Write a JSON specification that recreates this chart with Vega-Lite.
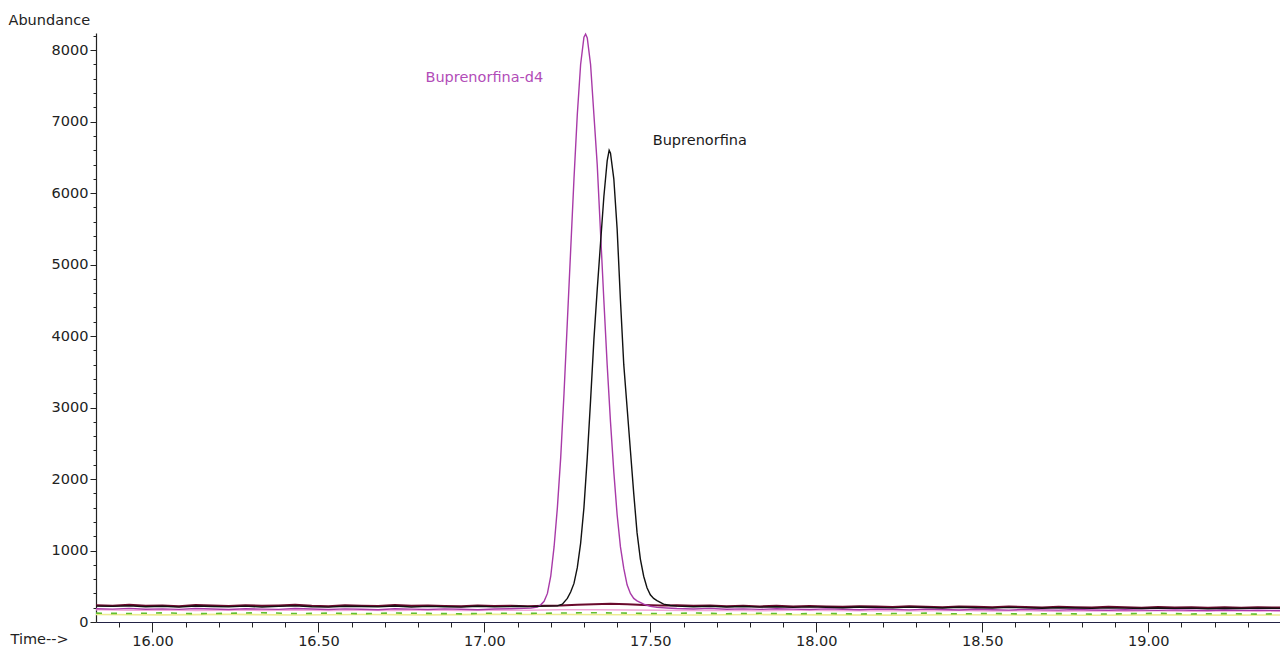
{
  "$schema": "https://vega.github.io/schema/vega-lite/v6.json",
  "width": 1184,
  "height": 589,
  "autosize": {"type": "none"},
  "padding": {"left": 96, "top": 33, "right": 0, "bottom": 27},
  "background": "#ffffff",
  "config": {"font": "DejaVu Sans", "view": {"stroke": null}},
  "datasets": {
    "tr": [
      {"t":15.83,"a":105,"s":"yel"},{"t":16.03,"a":100,"s":"yel"},{"t":16.23,"a":106,"s":"yel"},{"t":16.43,"a":98,"s":"yel"},{"t":16.63,"a":104,"s":"yel"},{"t":16.83,"a":100,"s":"yel"},{"t":17.03,"a":106,"s":"yel"},{"t":17.23,"a":104,"s":"yel"},{"t":17.43,"a":102,"s":"yel"},{"t":17.63,"a":98,"s":"yel"},{"t":17.83,"a":104,"s":"yel"},{"t":18.03,"a":100,"s":"yel"},{"t":18.23,"a":96,"s":"yel"},{"t":18.43,"a":102,"s":"yel"},{"t":18.63,"a":98,"s":"yel"},{"t":18.83,"a":94,"s":"yel"},{"t":19.03,"a":100,"s":"yel"},{"t":19.23,"a":96,"s":"yel"},{"t":19.40,"a":98,"s":"yel"},

      {"t":15.83,"a":124,"s":"grn"},{"t":15.93,"a":118,"s":"grn"},{"t":16.03,"a":128,"s":"grn"},{"t":16.13,"a":116,"s":"grn"},{"t":16.23,"a":122,"s":"grn"},{"t":16.33,"a":130,"s":"grn"},{"t":16.43,"a":118,"s":"grn"},{"t":16.53,"a":124,"s":"grn"},{"t":16.63,"a":116,"s":"grn"},{"t":16.73,"a":126,"s":"grn"},{"t":16.83,"a":120,"s":"grn"},{"t":16.93,"a":114,"s":"grn"},{"t":17.03,"a":124,"s":"grn"},{"t":17.13,"a":120,"s":"grn"},{"t":17.23,"a":126,"s":"grn"},{"t":17.33,"a":130,"s":"grn"},{"t":17.43,"a":124,"s":"grn"},{"t":17.53,"a":118,"s":"grn"},{"t":17.63,"a":126,"s":"grn"},{"t":17.73,"a":116,"s":"grn"},{"t":17.83,"a":122,"s":"grn"},{"t":17.93,"a":114,"s":"grn"},{"t":18.03,"a":120,"s":"grn"},{"t":18.13,"a":112,"s":"grn"},{"t":18.23,"a":118,"s":"grn"},{"t":18.33,"a":124,"s":"grn"},{"t":18.43,"a":114,"s":"grn"},{"t":18.53,"a":120,"s":"grn"},{"t":18.63,"a":112,"s":"grn"},{"t":18.73,"a":118,"s":"grn"},{"t":18.83,"a":110,"s":"grn"},{"t":18.93,"a":116,"s":"grn"},{"t":19.03,"a":122,"s":"grn"},{"t":19.13,"a":112,"s":"grn"},{"t":19.23,"a":118,"s":"grn"},{"t":19.33,"a":110,"s":"grn"},{"t":19.40,"a":116,"s":"grn"},

      {"t":15.83,"a":170,"s":"pnk"},{"t":15.93,"a":164,"s":"pnk"},{"t":16.03,"a":168,"s":"pnk"},{"t":16.13,"a":160,"s":"pnk"},{"t":16.23,"a":166,"s":"pnk"},{"t":16.33,"a":162,"s":"pnk"},{"t":16.43,"a":168,"s":"pnk"},{"t":16.53,"a":160,"s":"pnk"},{"t":16.63,"a":166,"s":"pnk"},{"t":16.73,"a":162,"s":"pnk"},{"t":16.83,"a":168,"s":"pnk"},{"t":16.93,"a":160,"s":"pnk"},{"t":17.03,"a":164,"s":"pnk"},{"t":17.13,"a":166,"s":"pnk"},{"t":17.23,"a":170,"s":"pnk"},{"t":17.33,"a":172,"s":"pnk"},{"t":17.43,"a":168,"s":"pnk"},{"t":17.53,"a":164,"s":"pnk"},{"t":17.63,"a":160,"s":"pnk"},{"t":17.73,"a":166,"s":"pnk"},{"t":17.83,"a":158,"s":"pnk"},{"t":17.93,"a":164,"s":"pnk"},{"t":18.03,"a":160,"s":"pnk"},{"t":18.13,"a":156,"s":"pnk"},{"t":18.23,"a":162,"s":"pnk"},{"t":18.33,"a":156,"s":"pnk"},{"t":18.43,"a":160,"s":"pnk"},{"t":18.53,"a":154,"s":"pnk"},{"t":18.63,"a":158,"s":"pnk"},{"t":18.73,"a":152,"s":"pnk"},{"t":18.83,"a":158,"s":"pnk"},{"t":18.93,"a":152,"s":"pnk"},{"t":19.03,"a":156,"s":"pnk"},{"t":19.13,"a":150,"s":"pnk"},{"t":19.23,"a":156,"s":"pnk"},{"t":19.33,"a":150,"s":"pnk"},{"t":19.40,"a":154,"s":"pnk"},

      {"t":15.83,"a":236,"s":"mar"},{"t":15.88,"a":228,"s":"mar"},{"t":15.93,"a":240,"s":"mar"},{"t":15.98,"a":226,"s":"mar"},{"t":16.03,"a":232,"s":"mar"},{"t":16.08,"a":222,"s":"mar"},{"t":16.13,"a":238,"s":"mar"},{"t":16.18,"a":230,"s":"mar"},{"t":16.23,"a":224,"s":"mar"},{"t":16.28,"a":236,"s":"mar"},{"t":16.33,"a":226,"s":"mar"},{"t":16.38,"a":232,"s":"mar"},{"t":16.43,"a":242,"s":"mar"},{"t":16.48,"a":228,"s":"mar"},{"t":16.53,"a":222,"s":"mar"},{"t":16.58,"a":234,"s":"mar"},{"t":16.63,"a":228,"s":"mar"},{"t":16.68,"a":224,"s":"mar"},{"t":16.73,"a":238,"s":"mar"},{"t":16.78,"a":226,"s":"mar"},{"t":16.83,"a":232,"s":"mar"},{"t":16.88,"a":224,"s":"mar"},{"t":16.93,"a":220,"s":"mar"},{"t":16.98,"a":230,"s":"mar"},{"t":17.03,"a":224,"s":"mar"},{"t":17.08,"a":228,"s":"mar"},{"t":17.13,"a":222,"s":"mar"},{"t":17.18,"a":226,"s":"mar"},{"t":17.23,"a":230,"s":"mar"},{"t":17.28,"a":240,"s":"mar"},{"t":17.33,"a":250,"s":"mar"},{"t":17.38,"a":255,"s":"mar"},{"t":17.43,"a":248,"s":"mar"},{"t":17.48,"a":238,"s":"mar"},{"t":17.53,"a":232,"s":"mar"},{"t":17.58,"a":236,"s":"mar"},{"t":17.63,"a":226,"s":"mar"},{"t":17.68,"a":232,"s":"mar"},{"t":17.73,"a":222,"s":"mar"},{"t":17.78,"a":228,"s":"mar"},{"t":17.83,"a":218,"s":"mar"},{"t":17.88,"a":226,"s":"mar"},{"t":17.93,"a":216,"s":"mar"},{"t":17.98,"a":224,"s":"mar"},{"t":18.03,"a":218,"s":"mar"},{"t":18.08,"a":212,"s":"mar"},{"t":18.13,"a":222,"s":"mar"},{"t":18.18,"a":216,"s":"mar"},{"t":18.23,"a":210,"s":"mar"},{"t":18.28,"a":220,"s":"mar"},{"t":18.33,"a":214,"s":"mar"},{"t":18.38,"a":208,"s":"mar"},{"t":18.43,"a":218,"s":"mar"},{"t":18.48,"a":212,"s":"mar"},{"t":18.53,"a":206,"s":"mar"},{"t":18.58,"a":216,"s":"mar"},{"t":18.63,"a":210,"s":"mar"},{"t":18.68,"a":204,"s":"mar"},{"t":18.73,"a":214,"s":"mar"},{"t":18.78,"a":208,"s":"mar"},{"t":18.83,"a":202,"s":"mar"},{"t":18.88,"a":212,"s":"mar"},{"t":18.93,"a":206,"s":"mar"},{"t":18.98,"a":200,"s":"mar"},{"t":19.03,"a":210,"s":"mar"},{"t":19.08,"a":204,"s":"mar"},{"t":19.13,"a":208,"s":"mar"},{"t":19.18,"a":200,"s":"mar"},{"t":19.23,"a":206,"s":"mar"},{"t":19.28,"a":200,"s":"mar"},{"t":19.33,"a":206,"s":"mar"},{"t":19.40,"a":202,"s":"mar"},

      {"t":15.83,"a":186,"s":"d4"},{"t":15.88,"a":180,"s":"d4"},{"t":15.93,"a":190,"s":"d4"},{"t":15.98,"a":178,"s":"d4"},{"t":16.03,"a":184,"s":"d4"},{"t":16.08,"a":176,"s":"d4"},{"t":16.13,"a":188,"s":"d4"},{"t":16.18,"a":182,"s":"d4"},{"t":16.23,"a":174,"s":"d4"},{"t":16.28,"a":186,"s":"d4"},{"t":16.33,"a":180,"s":"d4"},{"t":16.38,"a":176,"s":"d4"},{"t":16.43,"a":188,"s":"d4"},{"t":16.48,"a":182,"s":"d4"},{"t":16.53,"a":174,"s":"d4"},{"t":16.58,"a":184,"s":"d4"},{"t":16.63,"a":178,"s":"d4"},{"t":16.68,"a":172,"s":"d4"},{"t":16.73,"a":186,"s":"d4"},{"t":16.78,"a":180,"s":"d4"},{"t":16.83,"a":174,"s":"d4"},{"t":16.88,"a":184,"s":"d4"},{"t":16.93,"a":178,"s":"d4"},{"t":16.98,"a":172,"s":"d4"},{"t":17.03,"a":182,"s":"d4"},{"t":17.08,"a":186,"s":"d4"},{"t":17.10,"a":188,"s":"d4"},{"t":17.12,"a":190,"s":"d4"},{"t":17.14,"a":194,"s":"d4"},{"t":17.16,"a":210,"s":"d4"},{"t":17.17,"a":240,"s":"d4"},{"t":17.18,"a":290,"s":"d4"},{"t":17.19,"a":400,"s":"d4"},{"t":17.20,"a":640,"s":"d4"},{"t":17.21,"a":1050,"s":"d4"},{"t":17.22,"a":1600,"s":"d4"},{"t":17.23,"a":2300,"s":"d4"},{"t":17.24,"a":3200,"s":"d4"},{"t":17.25,"a":4200,"s":"d4"},{"t":17.26,"a":5200,"s":"d4"},{"t":17.27,"a":6200,"s":"d4"},{"t":17.28,"a":7100,"s":"d4"},{"t":17.29,"a":7800,"s":"d4"},{"t":17.30,"a":8180,"s":"d4"},{"t":17.305,"a":8225,"s":"d4"},{"t":17.31,"a":8170,"s":"d4"},{"t":17.32,"a":7800,"s":"d4"},{"t":17.33,"a":7100,"s":"d4"},{"t":17.34,"a":6400,"s":"d4"},{"t":17.35,"a":5450,"s":"d4"},{"t":17.36,"a":4500,"s":"d4"},{"t":17.37,"a":3600,"s":"d4"},{"t":17.38,"a":2800,"s":"d4"},{"t":17.39,"a":2100,"s":"d4"},{"t":17.40,"a":1500,"s":"d4"},{"t":17.41,"a":1050,"s":"d4"},{"t":17.42,"a":750,"s":"d4"},{"t":17.43,"a":520,"s":"d4"},{"t":17.44,"a":400,"s":"d4"},{"t":17.45,"a":330,"s":"d4"},{"t":17.46,"a":295,"s":"d4"},{"t":17.48,"a":250,"s":"d4"},{"t":17.50,"a":220,"s":"d4"},{"t":17.52,"a":205,"s":"d4"},{"t":17.55,"a":195,"s":"d4"},{"t":17.58,"a":188,"s":"d4"},{"t":17.63,"a":182,"s":"d4"},{"t":17.68,"a":190,"s":"d4"},{"t":17.73,"a":178,"s":"d4"},{"t":17.78,"a":184,"s":"d4"},{"t":17.83,"a":176,"s":"d4"},{"t":17.88,"a":186,"s":"d4"},{"t":17.93,"a":180,"s":"d4"},{"t":17.98,"a":174,"s":"d4"},{"t":18.03,"a":184,"s":"d4"},{"t":18.08,"a":178,"s":"d4"},{"t":18.13,"a":172,"s":"d4"},{"t":18.18,"a":182,"s":"d4"},{"t":18.23,"a":176,"s":"d4"},{"t":18.28,"a":170,"s":"d4"},{"t":18.33,"a":180,"s":"d4"},{"t":18.38,"a":174,"s":"d4"},{"t":18.43,"a":168,"s":"d4"},{"t":18.48,"a":178,"s":"d4"},{"t":18.53,"a":172,"s":"d4"},{"t":18.58,"a":166,"s":"d4"},{"t":18.63,"a":176,"s":"d4"},{"t":18.68,"a":170,"s":"d4"},{"t":18.73,"a":166,"s":"d4"},{"t":18.78,"a":174,"s":"d4"},{"t":18.83,"a":168,"s":"d4"},{"t":18.88,"a":164,"s":"d4"},{"t":18.93,"a":172,"s":"d4"},{"t":18.98,"a":166,"s":"d4"},{"t":19.03,"a":162,"s":"d4"},{"t":19.08,"a":170,"s":"d4"},{"t":19.13,"a":164,"s":"d4"},{"t":19.18,"a":160,"s":"d4"},{"t":19.23,"a":168,"s":"d4"},{"t":19.28,"a":162,"s":"d4"},{"t":19.33,"a":166,"s":"d4"},{"t":19.40,"a":160,"s":"d4"},

      {"t":15.83,"a":222,"s":"bup"},{"t":15.88,"a":218,"s":"bup"},{"t":15.93,"a":226,"s":"bup"},{"t":15.98,"a":214,"s":"bup"},{"t":16.03,"a":220,"s":"bup"},{"t":16.08,"a":208,"s":"bup"},{"t":16.13,"a":224,"s":"bup"},{"t":16.18,"a":216,"s":"bup"},{"t":16.23,"a":212,"s":"bup"},{"t":16.28,"a":222,"s":"bup"},{"t":16.33,"a":210,"s":"bup"},{"t":16.38,"a":218,"s":"bup"},{"t":16.43,"a":226,"s":"bup"},{"t":16.48,"a":214,"s":"bup"},{"t":16.53,"a":208,"s":"bup"},{"t":16.58,"a":220,"s":"bup"},{"t":16.63,"a":216,"s":"bup"},{"t":16.68,"a":212,"s":"bup"},{"t":16.73,"a":224,"s":"bup"},{"t":16.78,"a":210,"s":"bup"},{"t":16.83,"a":218,"s":"bup"},{"t":16.88,"a":214,"s":"bup"},{"t":16.93,"a":208,"s":"bup"},{"t":16.98,"a":220,"s":"bup"},{"t":17.03,"a":212,"s":"bup"},{"t":17.08,"a":216,"s":"bup"},{"t":17.10,"a":220,"s":"bup"},{"t":17.14,"a":215,"s":"bup"},{"t":17.18,"a":222,"s":"bup"},{"t":17.22,"a":225,"s":"bup"},{"t":17.235,"a":250,"s":"bup"},{"t":17.25,"a":330,"s":"bup"},{"t":17.26,"a":420,"s":"bup"},{"t":17.27,"a":540,"s":"bup"},{"t":17.28,"a":760,"s":"bup"},{"t":17.29,"a":1100,"s":"bup"},{"t":17.30,"a":1600,"s":"bup"},{"t":17.31,"a":2300,"s":"bup"},{"t":17.32,"a":3100,"s":"bup"},{"t":17.33,"a":3950,"s":"bup"},{"t":17.34,"a":4650,"s":"bup"},{"t":17.35,"a":5300,"s":"bup"},{"t":17.36,"a":5950,"s":"bup"},{"t":17.37,"a":6450,"s":"bup"},{"t":17.376,"a":6600,"s":"bup"},{"t":17.38,"a":6560,"s":"bup"},{"t":17.39,"a":6200,"s":"bup"},{"t":17.40,"a":5500,"s":"bup"},{"t":17.41,"a":4500,"s":"bup"},{"t":17.42,"a":3600,"s":"bup"},{"t":17.43,"a":3000,"s":"bup"},{"t":17.44,"a":2400,"s":"bup"},{"t":17.45,"a":1800,"s":"bup"},{"t":17.46,"a":1250,"s":"bup"},{"t":17.47,"a":880,"s":"bup"},{"t":17.48,"a":640,"s":"bup"},{"t":17.49,"a":480,"s":"bup"},{"t":17.50,"a":380,"s":"bup"},{"t":17.51,"a":330,"s":"bup"},{"t":17.52,"a":300,"s":"bup"},{"t":17.54,"a":250,"s":"bup"},{"t":17.56,"a":230,"s":"bup"},{"t":17.58,"a":222,"s":"bup"},{"t":17.63,"a":214,"s":"bup"},{"t":17.68,"a":220,"s":"bup"},{"t":17.73,"a":210,"s":"bup"},{"t":17.78,"a":216,"s":"bup"},{"t":17.83,"a":208,"s":"bup"},{"t":17.88,"a":214,"s":"bup"},{"t":17.93,"a":204,"s":"bup"},{"t":17.98,"a":212,"s":"bup"},{"t":18.03,"a":206,"s":"bup"},{"t":18.08,"a":200,"s":"bup"},{"t":18.13,"a":210,"s":"bup"},{"t":18.18,"a":204,"s":"bup"},{"t":18.23,"a":198,"s":"bup"},{"t":18.28,"a":208,"s":"bup"},{"t":18.33,"a":202,"s":"bup"},{"t":18.38,"a":196,"s":"bup"},{"t":18.43,"a":206,"s":"bup"},{"t":18.48,"a":200,"s":"bup"},{"t":18.53,"a":194,"s":"bup"},{"t":18.58,"a":204,"s":"bup"},{"t":18.63,"a":198,"s":"bup"},{"t":18.68,"a":192,"s":"bup"},{"t":18.73,"a":200,"s":"bup"},{"t":18.78,"a":196,"s":"bup"},{"t":18.83,"a":190,"s":"bup"},{"t":18.88,"a":198,"s":"bup"},{"t":18.93,"a":194,"s":"bup"},{"t":18.98,"a":188,"s":"bup"},{"t":19.03,"a":196,"s":"bup"},{"t":19.08,"a":190,"s":"bup"},{"t":19.13,"a":194,"s":"bup"},{"t":19.18,"a":186,"s":"bup"},{"t":19.23,"a":192,"s":"bup"},{"t":19.28,"a":188,"s":"bup"},{"t":19.33,"a":194,"s":"bup"},{"t":19.40,"a":190,"s":"bup"}
    ],
    "labels": [
      {"t":17.0,"a":7610,"label":"Buprenorfina-d4","s":"d4"},
      {"t":17.649,"a":6729,"label":"Buprenorfina","s":"bup"}
    ]
  },
  "resolve": {"scale": {"x": "independent", "y": "independent"}, "axis": {"x": "independent", "y": "independent"}},
  "layer": [
    {
      "data": {"name": "tr"},
      "transform": [{"filter": "datum.s === 'yel'"}],
      "mark": {"type": "line", "color": "#ecec90", "strokeWidth": 1.6},
      "encoding": {
        "x": {"field": "t", "type": "quantitative", "scale": {"domain": [15.83, 19.397], "nice": false, "zero": false},
          "axis": {"orient": "bottom", "values": [15.9,16.1,16.2,16.3,16.4,16.6,16.7,16.8,16.9,17.1,17.2,17.3,17.4,17.6,17.7,17.8,17.9,18.1,18.2,18.3,18.4,18.6,18.7,18.8,18.9,19.1,19.2,19.3],
            "labels": false, "domain": false, "grid": false, "ticks": true, "tickSize": 5, "tickColor": "#222222", "title": null}},
        "y": {"field": "a", "type": "quantitative", "scale": {"domain": [0, 8240], "nice": false},
          "axis": {"orient": "left", "values": [200,400,600,800,1200,1400,1600,1800,2200,2400,2600,2800,3200,3400,3600,3800,4200,4400,4600,4800,5200,5400,5600,5800,6200,6400,6600,6800,7200,7400,7600,7800,8200],
            "labels": false, "domain": false, "grid": false, "ticks": true, "tickSize": 3, "tickColor": "#222222", "title": null}}
      }
    },
    {
      "data": {"name": "tr"},
      "transform": [{"filter": "datum.s === 'grn'"}],
      "mark": {"type": "line", "color": "#62bf30", "strokeWidth": 1.6, "strokeDash": [6, 9]},
      "encoding": {
        "x": {"field": "t", "type": "quantitative", "scale": {"domain": [15.83, 19.397], "nice": false, "zero": false}, "axis": null},
        "y": {"field": "a", "type": "quantitative", "scale": {"domain": [0, 8240], "nice": false}, "axis": null}
      }
    },
    {
      "data": {"name": "tr"},
      "transform": [{"filter": "datum.s === 'pnk'"}],
      "mark": {"type": "line", "color": "#f2a8d8", "strokeWidth": 1.5},
      "encoding": {
        "x": {"field": "t", "type": "quantitative", "scale": {"domain": [15.83, 19.397], "nice": false, "zero": false}, "axis": null},
        "y": {"field": "a", "type": "quantitative", "scale": {"domain": [0, 8240], "nice": false}, "axis": null}
      }
    },
    {
      "data": {"name": "tr"},
      "transform": [{"filter": "datum.s === 'mar'"}],
      "mark": {"type": "line", "color": "#6a0a2c", "strokeWidth": 2},
      "encoding": {
        "x": {"field": "t", "type": "quantitative", "scale": {"domain": [15.83, 19.397], "nice": false, "zero": false}, "axis": null},
        "y": {"field": "a", "type": "quantitative", "scale": {"domain": [0, 8240], "nice": false}, "axis": null}
      }
    },
    {
      "data": {"name": "tr"},
      "transform": [{"filter": "datum.s === 'd4'"}],
      "mark": {"type": "line", "color": "#a83aa8", "strokeWidth": 1.4},
      "encoding": {
        "x": {"field": "t", "type": "quantitative", "scale": {"domain": [15.83, 19.397], "nice": false, "zero": false}, "axis": null},
        "y": {"field": "a", "type": "quantitative", "scale": {"domain": [0, 8240], "nice": false}, "axis": null}
      }
    },
    {
      "data": {"name": "tr"},
      "transform": [{"filter": "datum.s === 'bup'"}],
      "mark": {"type": "line", "color": "#111111", "strokeWidth": 1.4},
      "encoding": {
        "x": {"field": "t", "type": "quantitative", "scale": {"domain": [15.83, 19.397], "nice": false, "zero": false},
          "axis": {"orient": "bottom", "values": [16, 16.5, 17, 17.5, 18, 18.5, 19], "format": ".2f", "grid": false,
            "domain": true, "domainColor": "#222244", "domainWidth": 1.2, "tickColor": "#222222", "tickSize": 10, "labelPadding": 2,
            "labelFont": "DejaVu Sans", "labelFontSize": 14.5, "labelColor": "#222222",
            "title": "Time-->", "titleFont": "DejaVu Sans", "titleFontSize": 14.5, "titleFontWeight": "normal", "titleColor": "#222222",
            "titleAnchor": "start", "titleAlign": "left", "titleBaseline": "middle", "titleX": -86, "titleY": 17}},
        "y": {"field": "a", "type": "quantitative", "scale": {"domain": [0, 8240], "nice": false},
          "axis": {"orient": "left", "values": [0,1000,2000,3000,4000,5000,6000,7000,8000], "format": "d", "grid": false,
            "domain": true, "domainColor": "#222222", "domainWidth": 1.2, "tickColor": "#222222", "tickSize": 6, "labelPadding": 2,
            "labelFont": "DejaVu Sans", "labelFontSize": 14.5, "labelColor": "#222222",
            "title": "Abundance", "titleFont": "DejaVu Sans", "titleFontSize": 14.5, "titleFontWeight": "normal", "titleColor": "#222222",
            "titleAngle": 0, "titleAnchor": "start", "titleAlign": "left", "titleBaseline": "middle", "titleX": -88, "titleY": -13}}
      }
    },
    {
      "data": {"name": "labels"},
      "mark": {"type": "text", "font": "DejaVu Sans", "fontSize": 14.5, "align": "center", "baseline": "middle"},
      "encoding": {
        "x": {"field": "t", "type": "quantitative", "scale": {"domain": [15.83, 19.397], "nice": false, "zero": false}, "axis": null},
        "y": {"field": "a", "type": "quantitative", "scale": {"domain": [0, 8240], "nice": false}, "axis": null},
        "text": {"field": "label"},
        "color": {"field": "s", "type": "nominal", "scale": {"domain": ["d4", "bup"], "range": ["#b24cb8", "#1a1a1a"]}, "legend": null}
      }
    }
  ]
}
